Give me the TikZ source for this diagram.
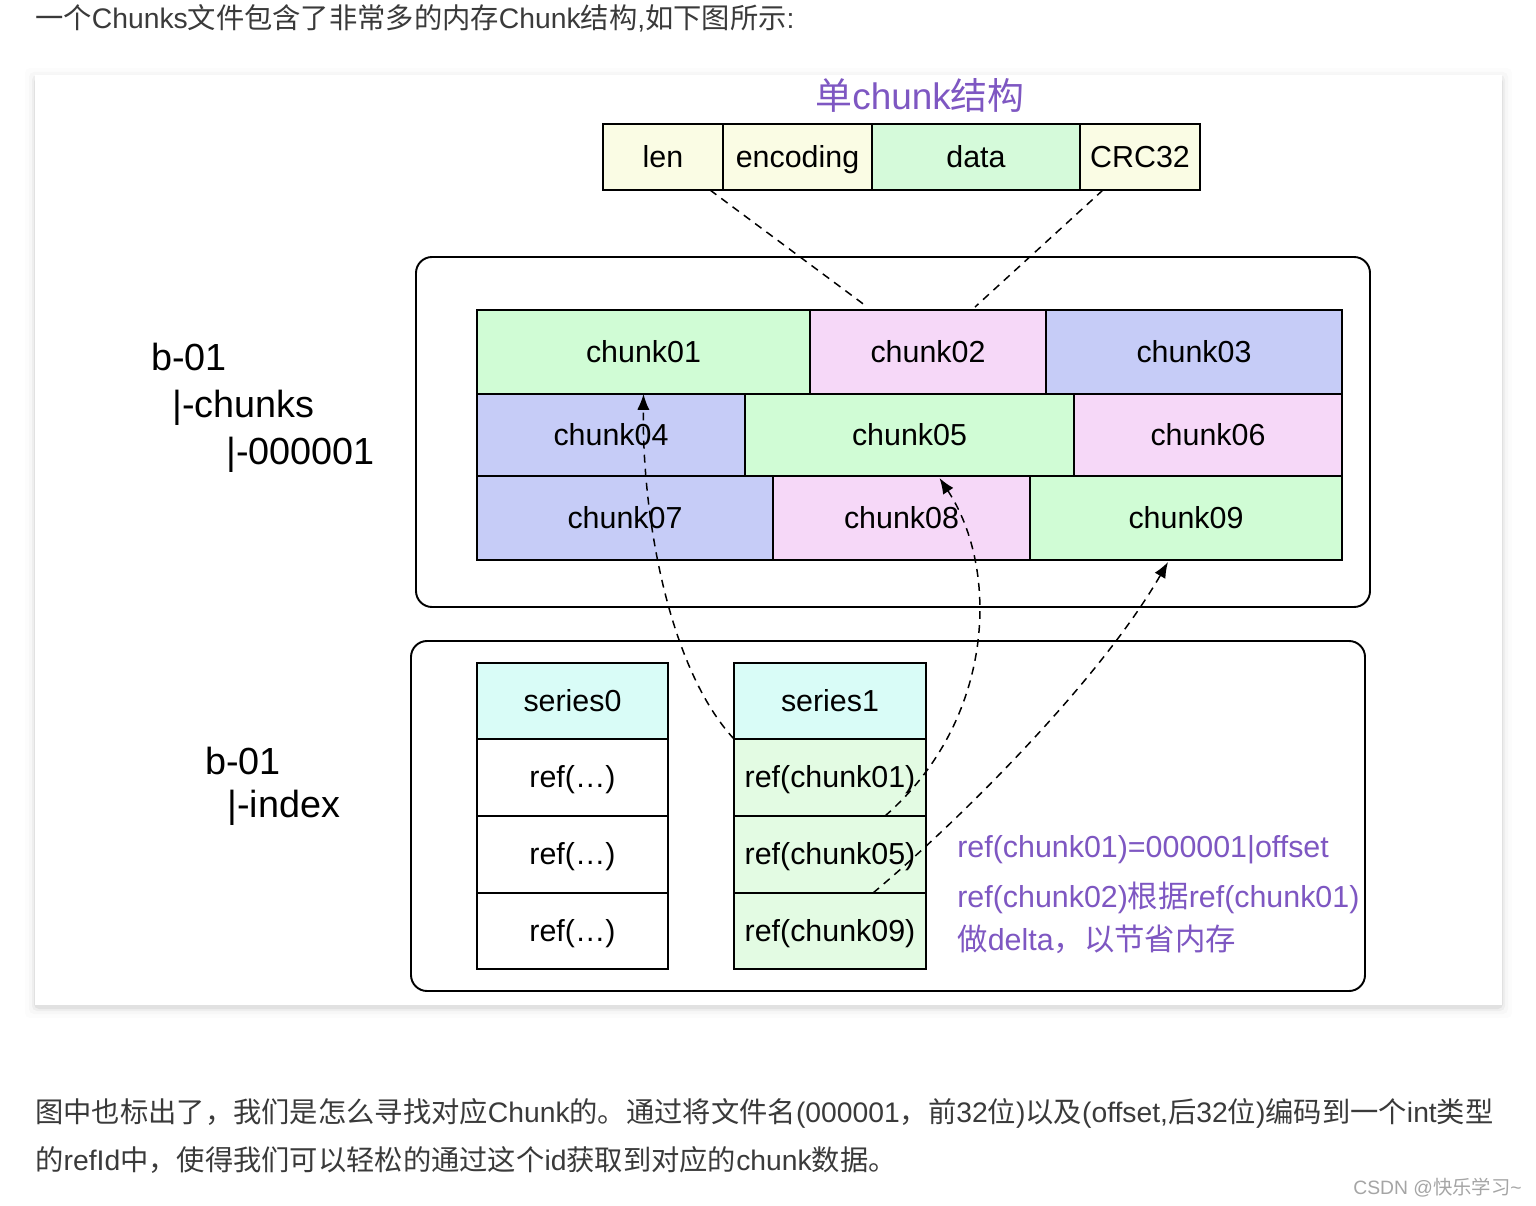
\documentclass[tikz,border=0pt]{standalone}
\usepackage{fontspec}
\setmainfont{Liberation Sans}
\newfontfamily\cjk{Noto Sans CJK SC}
\usetikzlibrary{arrows.meta,calc}

\definecolor{cyel}{RGB}{250,252,228}
\definecolor{cdata}{RGB}{213,250,218}
\definecolor{cgreen}{RGB}{208,252,213}
\definecolor{cpink}{RGB}{246,216,248}
\definecolor{cblue}{RGB}{198,204,247}
\definecolor{ccyan}{RGB}{217,252,247}
\definecolor{crefg}{RGB}{227,251,227}
\definecolor{npurple}{RGB}{126,87,194}
\definecolor{ptext}{RGB}{58,58,58}
\definecolor{wmark}{RGB}{165,165,165}

\newcommand{\pxu}{0.02cm}
\newcommand{\zh}[1]{{\cjk #1}}

\begin{document}
\begin{tikzpicture}[x=0.02cm,y=-0.02cm,
  cell/.style={draw,line width=1.1pt,inner sep=0pt,outer sep=0pt,anchor=north west,
    text height=12.4pt,text depth=0.6pt,font=\fontsize{17.3pt}{20pt}\selectfont},
  wh/.style 2 args={minimum width=#1*\pxu,minimum height=#2*\pxu},
  grp/.style={draw,line width=1.1pt,rounded corners=0.32cm},
  dashln/.style={line width=0.85pt,dash pattern=on 4.5pt off 3.5pt},
  reflink/.style={dashln,-{Latex[length=9pt,width=7pt]}},
  dirtxt/.style={anchor=base west,inner sep=0pt,font=\fontsize{21.5pt}{26pt}\selectfont},
  note/.style={anchor=base west,inner sep=0pt,text=npurple,font=\fontsize{17.3pt}{20pt}\selectfont},
  para/.style={anchor=base west,inner sep=0pt,text=ptext,font=\fontsize{16.1pt}{19pt}\selectfont}]
\useasboundingbox (0,0) rectangle (1536,1206);
\fill[white] (0,0) rectangle (1536,1206);

% card with soft shadow
\foreach \s/\o in {1/0.05,3/0.035,6/0.02,10/0.01}
  \fill[black,opacity=\o,rounded corners=0.1cm] (35-\s,75-\s+3) rectangle (1502+\s,1005+\s+3);
\fill[white] (35,75) rectangle (1502,1005);

% page text
\node[para] (intro) at (35,29) {\zh{一个}Chunks\zh{文件包含了非常多的内存}Chunk\zh{结构},\zh{如下图所示}:};
\node[para] (line1) at (35,1122) {\zh{图中也标出了，我们是怎么寻找对应}Chunk\zh{的。通过将文件名}(000001\zh{，前}32\zh{位})\zh{以及}(offset,\zh{后}32\zh{位})\zh{编码到一个}int\zh{类型}};
\node[para] (line2) at (35,1170) {\zh{的}refId\zh{中，使得我们可以轻松的通过这个}id\zh{获取到对应的}chunk\zh{数据。}};
\node[anchor=base east,inner sep=0pt,text=wmark,font=\fontsize{11pt}{13pt}\selectfont] (wm) at (1522,1194) {CSDN @\zh{快乐学习}\string~};

% single chunk layout
\node[anchor=base,text=npurple,font=\fontsize{21pt}{25pt}\selectfont] (title) at (920,110) {\zh{单}chunk\zh{结构}};
\node[cell,fill=cyel,wh={120}{66}] (len) at (603,124) {len};
\node[cell,fill=cyel,wh={149}{66}] (enc) at (723,124) {encoding};
\node[cell,fill=cdata,wh={208}{66}] (data) at (872,124) {data};
\node[cell,fill=cyel,wh={120}{66}] (crc) at (1080,124) {CRC32};

% chunks file
\draw[grp] (416,257) rectangle (1370,607);
\node[dirtxt] (dirb) at (151,371) {b-01};
\node[dirtxt] (dirc) at (172,418) {|-chunks};
\node[dirtxt] (dirf) at (226,464) {|-000001};

\node[cell,fill=cgreen,wh={333}{84}] (c01) at (477,310) {chunk01};
\node[cell,fill=cpink,wh={236}{84}] (c02) at (810,310) {chunk02};
\node[cell,fill=cblue,wh={296}{84}] (c03) at (1046,310) {chunk03};
\node[cell,fill=cblue,wh={268}{82}] (c04) at (477,394) {chunk04};
\node[cell,fill=cgreen,wh={329}{82}] (c05) at (745,394) {chunk05};
\node[cell,fill=cpink,wh={268}{82}] (c06) at (1074,394) {chunk06};
\node[cell,fill=cblue,wh={296}{84}] (c07) at (477,476) {chunk07};
\node[cell,fill=cpink,wh={257}{84}] (c08) at (773,476) {chunk08};
\node[cell,fill=cgreen,wh={312}{84}] (c09) at (1030,476) {chunk09};

% index file
\draw[grp] (411,641) rectangle (1365,991);
\node[dirtxt] (dirb2) at (205,774) {b-01};
\node[dirtxt] (diri) at (227,817) {|-index};

\node[cell,fill=ccyan,wh={191}{76}] (s0h) at (477,663) {series0};
\node[cell,fill=white,wh={191}{77}] (s0a) at (477,739) {ref(…)};
\node[cell,fill=white,wh={191}{77}] (s0b) at (477,816) {ref(…)};
\node[cell,fill=white,wh={191}{76}] (s0c) at (477,893) {ref(…)};
\node[cell,fill=ccyan,wh={192}{76}] (s1h) at (734,663) {series1};
\node[cell,fill=crefg,wh={192}{77}] (r1) at (734,739) {ref(chunk01)};
\node[cell,fill=crefg,wh={192}{77}] (r2) at (734,816) {ref(chunk05)};
\node[cell,fill=crefg,wh={192}{76}] (r3) at (734,893) {ref(chunk09)};

\node[note] (n1) at (957,857) {ref(chunk01)=000001|offset};
\node[note] (n2) at (957,907) {ref(chunk02)\zh{根据}ref(chunk01)};
\node[note] (n3) at (957,950) {\zh{做}delta\zh{，以节省内存}};

% links
\draw[dashln] ($(len.south east)+(-13,0)$) -- ($(c02.north)+(-62,-4)$);
\draw[dashln] ($(crc.south west)+(23,0)$) -- ($(c02.north)+(47,-3)$);
\draw[reflink] (s1h.south west) .. controls (670,670) and (642,520) .. (c01.south);
\draw[reflink] ($(r1.south east)+(-41,0)$) .. controls (995,720) and (1000,570) .. ($(c08.north)+(38,2)$);
\draw[reflink] ($(r2.south east)+(-53,0)$) .. controls (960,820) and (1100,680) .. ($(c09.south)+(-18,2)$);
\end{tikzpicture}
\end{document}
